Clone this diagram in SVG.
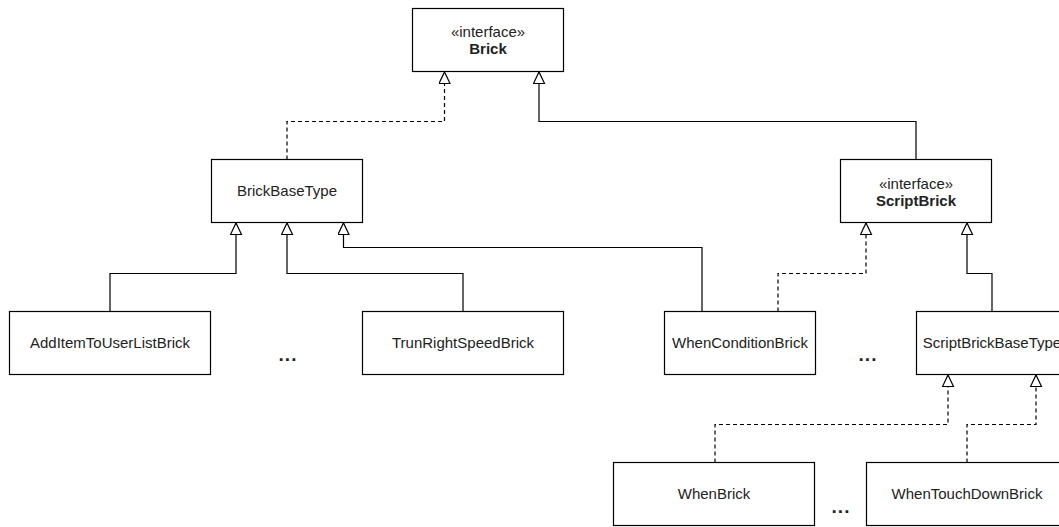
<svg xmlns="http://www.w3.org/2000/svg" width="1059" height="527" viewBox="0 0 1059 527">
  <style>
    .box { fill: #ffffff; stroke: #000000; stroke-width: 1.2; }
    .lbl { font-family: "Liberation Sans", Arial, sans-serif; font-size: 15px; fill: #222222; text-anchor: middle; }
    .bold { font-weight: bold; }
    .dots { font-family: "Liberation Sans", Arial, sans-serif; font-size: 19px; font-weight: bold; fill: #222222; text-anchor: middle; letter-spacing: 1px; }
    .gen { fill: none; stroke: #000000; stroke-width: 1.2; marker-end: url(#hollow); }
    .real { fill: none; stroke: #000000; stroke-width: 1.2; stroke-dasharray: 4 3; marker-end: url(#hollow); }
  </style>
  <defs>
    <!-- hollow triangle for generalization / realization -->
    <marker id="hollow" markerWidth="14" markerHeight="14" refX="12" refY="6" orient="auto" markerUnits="userSpaceOnUse">
      <path d="M0.5,0.5 L12,6 L0.5,11.5 Z" fill="#ffffff" stroke="#000000" stroke-width="1.2"/>
    </marker>
  </defs>

  <rect width="1059" height="527" fill="#ffffff"/>

  <g id="connectors">
    <path class="real" d="M287,159.5 V121.5 H444.5 V72"/>
    <path class="gen" d="M916,159.5 V121.5 H539 V72"/>
    <path class="gen" d="M110,311.5 V273.5 H236 V223"/>
    <path class="gen" d="M463,311.5 V273.5 H287 V223"/>
    <path class="gen" d="M702,311.5 V247.5 H343.5 V223"/>
    <path class="real" d="M778,311.5 V273.5 H866 V223"/>
    <path class="gen" d="M992,311.5 V273.5 H967 V223"/>
    <path class="real" d="M715,462.5 V424.5 H948 V375"/>
    <path class="real" d="M967,462.5 V424.5 H1036 V375"/>
  </g>

  <g id="brick">
    <rect class="box" x="412.5" y="8.5" width="151" height="63"/>
    <text class="lbl" x="488" y="37">«interface»</text>
    <text class="lbl bold" x="488" y="54">Brick</text>
  </g>

  <g id="brick-base-type">
    <rect class="box" x="211.5" y="159.5" width="151" height="63"/>
    <text class="lbl" x="287" y="196">BrickBaseType</text>
  </g>

  <g id="script-brick">
    <rect class="box" x="840.5" y="159.5" width="151" height="63"/>
    <text class="lbl" x="916" y="188.5">«interface»</text>
    <text class="lbl bold" x="916" y="206">ScriptBrick</text>
  </g>

  <g id="add-item-to-user-list-brick">
    <rect class="box" x="9.5" y="311.5" width="201" height="63"/>
    <text class="lbl" x="110" y="348">AddItemToUserListBrick</text>
  </g>

  <g id="trun-right-speed-brick">
    <rect class="box" x="362.5" y="311.5" width="201" height="63"/>
    <text class="lbl" x="463" y="348">TrunRightSpeedBrick</text>
  </g>

  <g id="when-condition-brick">
    <rect class="box" x="664.5" y="311.5" width="151" height="63"/>
    <text class="lbl" x="740" y="348">WhenConditionBrick</text>
  </g>

  <g id="script-brick-base-type">
    <rect class="box" x="916.5" y="311.5" width="151" height="63"/>
    <text class="lbl" x="992" y="348">ScriptBrickBaseType</text>
  </g>

  <g id="when-brick">
    <rect class="box" x="613.5" y="462.5" width="201" height="63"/>
    <text class="lbl" x="714" y="499">WhenBrick</text>
  </g>

  <g id="when-touch-down-brick">
    <rect class="box" x="866.5" y="462.5" width="201" height="63"/>
    <text class="lbl" x="967" y="499">WhenTouchDownBrick</text>
  </g>

  <g id="ellipses">
    <text class="dots" x="288" y="361">...</text>
    <text class="dots" x="868" y="361">...</text>
    <text class="dots" x="841" y="513">...</text>
  </g>
</svg>
